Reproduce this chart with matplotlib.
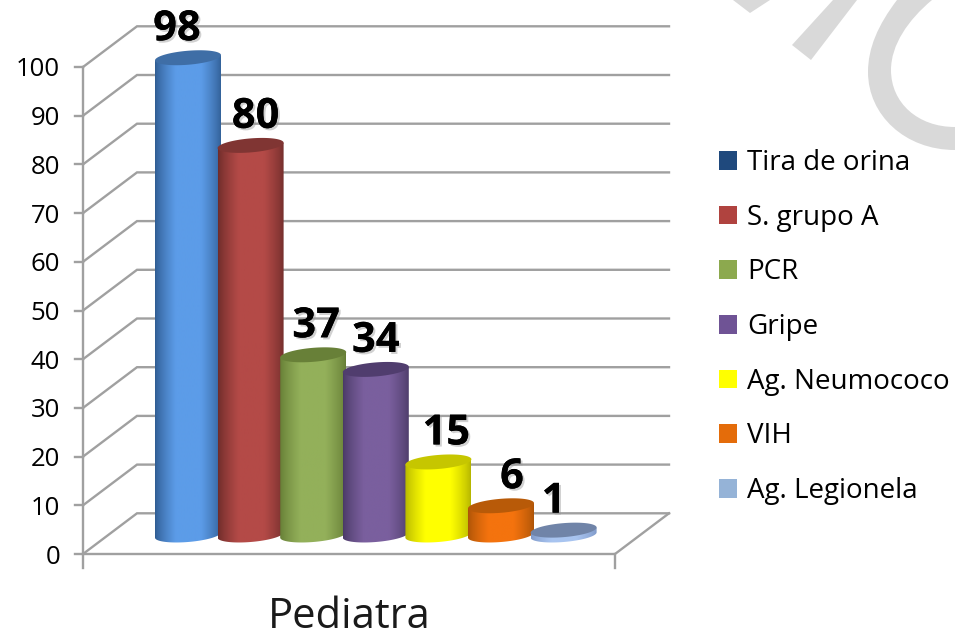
import numpy as np
import matplotlib
matplotlib.use("Agg")
import matplotlib.pyplot as plt
import matplotlib.patheffects as pe
from matplotlib.patches import Patch, Polygon, PathPatch
from matplotlib.path import Path

categories = ["Tira de orina", "S. grupo A", "PCR", "Gripe", "Ag. Neumococo", "VIH", "Ag. Legionela"]
values = [98, 80, 37, 34, 15, 6, 1]
y_ticks = list(range(0, 101, 10))
x_label = "Pediatra"

legend_colors = ["#1F497D", "#B0433F", "#8CA94E", "#6F5395", "#FFFF00", "#E46C0A", "#95B3D7"]
bright = ["#5C9CE8", "#B44A47", "#93B05A", "#7A5F9E", "#FFFF00", "#F4730E", "#A8C4F0"]
dark = ["#2F5C92", "#6E2C2A", "#667E36", "#4A3A66", "#B5B500", "#AD5407", "#7F99C8"]
top_col = ["#3F6EA6", "#803533", "#688038", "#503D6E", "#C6C600", "#B85A08", "#7084A8"]
label_dx = [-11, 5, 3, 0, 8, 11, -10]

plt.rcParams["font.family"] = ["Open Sans", "DejaVu Sans"]
W, H = 955, 632
fig = plt.figure(figsize=(W / 100, H / 100), dpi=100)

PX = 4.87            # pixels per value unit
Y0 = 554             # pixel row of value 0 on the front plane
def v2px(v): return Y0 - v * PX
def px2v(p): return (Y0 - p) / PX

ax = fig.add_axes([0, 0, 1, 1])
ax.axis("off")

# watermark (background decoration, pixel coordinates through the axes)
wm = "#D9D9D9"
def wm_poly(points):
    pts = [(x, px2v(y)) for x, y in points]
    ax.add_patch(Polygon(pts, closed=True, fc=wm, ec="none", zorder=0))
wm_poly([(733, 0), (750, 13), (770, 0)])
wm_poly([(792, 45), (811, 60), (857, 0), (833, 0)])
c_pts = [(897, 0), (878, 25), (868, 48), (868, 72), (868, 115), (905, 150), (955, 150),
         (955, 127), (918, 127), (891, 103), (891, 70), (891, 45), (908, 20), (932, 0), (897, 0)]
c_codes = [Path.MOVETO] + [Path.CURVE4] * 6 + [Path.LINETO] + [Path.CURVE4] * 6 + [Path.LINETO]
ax.add_patch(PathPatch(Path([(x, px2v(y)) for x, y in c_pts], c_codes), fc=wm, ec="none", zorder=0))

# walls and gridlines
grid = "#A0A0A0"
FX0, FX1, DX = 83, 615, 54
DEPTH = 40.7 / PX
for v in y_ticks:
    ax.plot([FX0, FX0 + DX, FX1 + DX], [v, v + DEPTH, v + DEPTH], color=grid, lw=1.7, zorder=1,
            solid_joinstyle="miter")
    ax.plot([FX0 - 8, FX0], [v, v], color=grid, lw=1.7, zorder=1)
    ax.text(60, v, str(v), ha="right", va="center_baseline", fontsize=18.5, color="black")
ax.plot([FX0, FX1, FX1 + DX], [0, 0, DEPTH], color=grid, lw=1.7, zorder=1, solid_joinstyle="miter")
ax.plot([FX0, FX0], [px2v(568), 100], color=grid, lw=1.7, zorder=1)
ax.plot([FX1, FX1], [px2v(568), 0], color=grid, lw=1.7, zorder=1)

# cylinders
BASE = 535
RX, RY, SLOPE = 33, 7, -0.08
X_FIRST, STEP = 188, 62.6
t = np.linspace(0, 2 * np.pi, 90)

def hex2rgb(c):
    return np.array(matplotlib.colors.to_rgb(c))

for i, val in enumerate(values):
    xc = X_FIRST + STEP * i
    top_px = BASE - val * PX
    tb = np.linspace(np.pi, 0, 60)          # lower half, left to right
    bx = xc + RX * np.cos(tb)
    by = BASE + SLOPE * RX * np.cos(tb) + RY * np.sin(tb)
    ttop = np.linspace(0, np.pi, 60)        # top edge, right to left
    ux = xc + RX * np.cos(ttop)
    uy = top_px + SLOPE * RX * np.cos(ttop)
    verts = list(zip(bx, px2v(by))) + list(zip(ux, px2v(uy))) + [(bx[0], px2v(by[0]))]
    codes = [Path.MOVETO] + [Path.LINETO] * (len(verts) - 2) + [Path.CLOSEPOLY]
    clip = PathPatch(Path(verts, codes), transform=ax.transData, fc="none", ec="none")
    ax.add_patch(clip)
    # horizontal shading between the dark rim and the bright centre
    u = np.linspace(0, 1, 80)
    m = np.clip(1 - np.abs(u - 0.5) / 0.5, 0, 1)
    m = np.clip(m / 0.62, 0, 1) ** 0.75
    c0, c1 = hex2rgb(dark[i]), hex2rgb(bright[i])
    img = (c0[None, :] * (1 - m)[:, None] + c1[None, :] * m[:, None])[None, :, :]
    im = ax.imshow(img, extent=[xc - RX, xc + RX, px2v(BASE + 12), px2v(top_px - 8)],
                   aspect="auto", zorder=2 + i * 0.1, interpolation="bilinear")
    im.set_clip_path(clip)
    # top cap
    ex = xc + RX * np.cos(t)
    ey = top_px + SLOPE * RX * np.cos(t) + RY * np.sin(t)
    ax.add_patch(Polygon(list(zip(ex, px2v(ey))), closed=True, fc=top_col[i], ec="none",
                         zorder=2.05 + i * 0.1))
    # value label
    ax.annotate(str(val), xy=(xc, px2v(top_px)), xytext=(label_dx[i], 28),
                textcoords="offset pixels", ha="center", va="center",
                fontsize=30, fontweight="bold", color="black", zorder=5,
                path_effects=[pe.withSimplePatchShadow(offset=(1.5, -1.5), shadow_rgbFace="#999999", alpha=0.45),
                              pe.Normal()])

ax.text(349, px2v(628), x_label, ha="center", va="baseline", fontsize=30, color="#1a1a1a")

handles = [Patch(fc=c, ec="none", label=n) for c, n in zip(legend_colors, categories)]
leg = ax.legend(handles=handles, loc="center left",
                bbox_to_anchor=(719 / W, 1 - 327 / H), bbox_transform=fig.transFigure,
                frameon=False, fontsize=20, handlelength=0.65, handleheight=0.65,
                handletextpad=0.36, labelspacing=0.96, borderpad=0, borderaxespad=0)

ax.set_xlim(0, W)
ax.set_ylim(px2v(H), px2v(0))
fig.savefig("out.png", dpi=100)
